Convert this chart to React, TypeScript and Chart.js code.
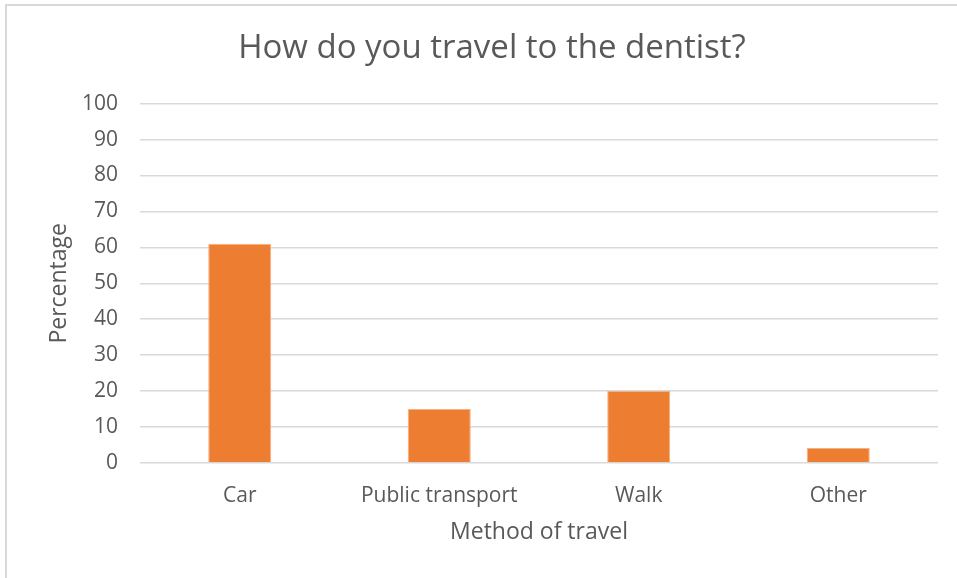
import React, { useEffect, useRef } from "react";
import { Chart, registerables } from "chart.js";

Chart.register(...registerables);

const categories = ["Car", "Public transport", "Walk", "Other"];
const percentages = [61, 15, 20, 4.2];
const yTicks = [0, 10, 20, 30, 40, 50, 60, 70, 80, 90, 100];

const FONT = "'Open Sans', Lato, sans-serif";
const TEXT = "#595959";

const framePlugin = {
  id: "frame",
  beforeDraw(chart: any) {
    const ctx = chart.ctx;
    ctx.save();
    ctx.fillStyle = "#ffffff";
    ctx.fillRect(0, 0, chart.width, chart.height);
    ctx.fillStyle = "#d9d9d9";
    ctx.fillRect(5, 4, chart.width - 5, 2);
    ctx.fillRect(5, 4, 2, chart.height - 4);
    ctx.restore();
  },
};

export default function App() {
  const ref = useRef<HTMLCanvasElement>(null);
  useEffect(() => {
    const chart = new Chart(ref.current as HTMLCanvasElement, {
      type: "bar",
      data: {
        labels: categories,
        datasets: [
          {
            data: percentages,
            backgroundColor: "#ED7D31",
            borderColor: "#F4B183",
            borderWidth: 1,
            barPercentage: 0.316,
            categoryPercentage: 1,
          },
        ],
      },
      options: {
        animation: false,
        responsive: false,
        maintainAspectRatio: false,
        layout: { padding: { left: 46, right: 19, top: 0, bottom: 32 } },
        plugins: {
          legend: { display: false },
          tooltip: { enabled: false },
          title: {
            display: true,
            text: "How do you travel to the dentist?",
            color: TEXT,
            font: { family: FONT, size: 33, weight: "normal" },
            padding: { top: 29, bottom: 35 },
          },
        },
        scales: {
          x: {
            grid: { display: false },
            border: { display: false },
            ticks: { color: TEXT, font: { family: FONT, size: 21 }, padding: 12 },
            title: {
              display: true,
              text: "Method of travel",
              color: TEXT,
              font: { family: FONT, size: 23 },
              padding: { top: 0, bottom: 0 },
            },
            afterFit(scale: any) {
              scale.height = 83;
            },
          },
          y: {
            min: 0,
            max: 100,
            afterBuildTicks(scale: any) {
              scale.ticks = yTicks.map((v) => ({ value: v }));
            },
            grid: { color: "#d9d9d9", lineWidth: 1.5, drawTicks: false },
            border: { display: false },
            ticks: { color: TEXT, font: { family: FONT, size: 21 }, padding: 22 },
            title: {
              display: true,
              text: "Percentage",
              color: TEXT,
              font: { family: FONT, size: 23 },
              padding: { top: 0, bottom: 0 },
            },
            afterFit(scale: any) {
              scale.width = 94;
            },
          },
        },
      },
      plugins: [framePlugin],
    });
    return () => chart.destroy();
  }, []);
  return (
    <div style={{ position: "fixed", left: 0, top: 0, width: 957, height: 578 }}>
      <canvas ref={ref} width={957} height={578} style={{ display: "block" }} />
    </div>
  );
}
